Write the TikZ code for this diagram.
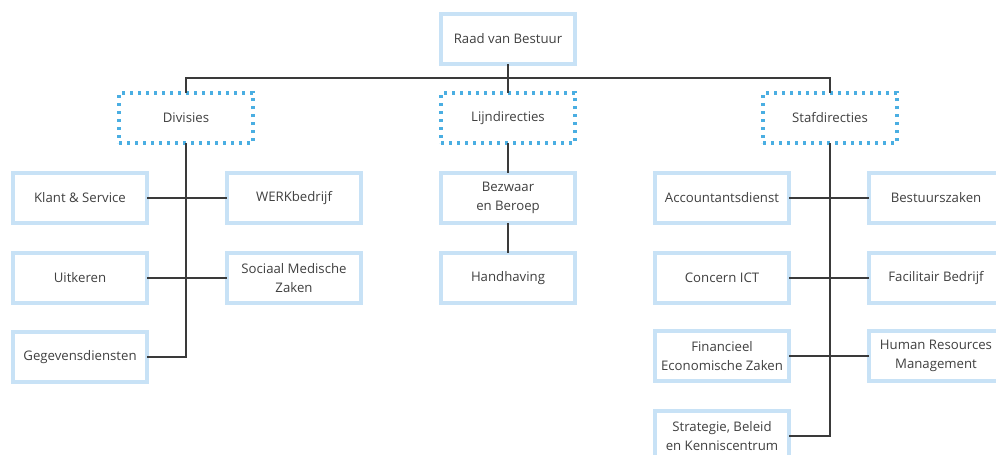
\documentclass[tikz,border=0pt]{standalone}
\usepackage{fontspec}
\setmainfont{Open Sans}
\definecolor{boxblue}{HTML}{C8E2F6}
\definecolor{dotblue}{HTML}{4AAEE2}
\definecolor{txt}{HTML}{404040}
\definecolor{conn}{HTML}{3A3A3A}
\tikzset{
  orgbox/.style={draw=boxblue, line width=3.5pt, fill=white, minimum width=134pt, minimum height=50pt,
    inner sep=2pt, outer sep=0pt, align=center, text=txt, font=\fontsize{13.2}{19}\selectfont},
  groupbox/.style={orgbox, draw=dotblue, line width=3.2pt, dash pattern=on 3.2pt off 4.8pt},
  link/.style={draw=conn, line width=1.6pt}
}
\begin{document}
\begin{tikzpicture}[x=1pt,y=-1pt]
\useasboundingbox (0,0) rectangle (996,455);
\begin{scope}
\clip (0,0) rectangle (996,455);
\coordinate (bus) at (508,78);
\node[orgbox] (raad) at (508,39) {Raad van Bestuur};
\node[groupbox] (div) at (186,118) {Divisies};
\node[groupbox] (lijn) at (508,118) {Lijndirecties};
\node[groupbox] (staf) at (830,118) {Stafdirecties};

\node[orgbox] (klant) at (80,198) {Klant \& Service};
\node[orgbox] (werk) at (294,198) {WERKbedrijf};
\node[orgbox] (uitk) at (80,278) {Uitkeren};
\node[orgbox] (smz) at (294,278) {Sociaal Medische\\Zaken};
\node[orgbox] (gegev) at (80,357) {Gegevensdiensten};

\node[orgbox] (bezw) at (508,198) {Bezwaar\\en Beroep};
\node[orgbox] (handh) at (508,278) {Handhaving};

\node[orgbox] (acc) at (722,198) {Accountantsdienst};
\node[orgbox] (bestz) at (936,198) {Bestuurszaken};
\node[orgbox] (ict) at (722,278) {Concern ICT};
\node[orgbox] (facb) at (936,278) {Facilitair Bedrijf};
\node[orgbox] (fez) at (722,356) {Financieel\\Economische Zaken};
\node[orgbox] (hrm) at (936,356) {Human Resources\\Management};
\node[orgbox] (sbk) at (722,436) {Strategie, Beleid\\en Kenniscentrum};

\draw[link] (raad.south) -- (lijn.north);
\draw[link] (div.north) |- (bus) -| (staf.north);
\draw[link] (div.south) |- (gegev.east);
\draw[link] (klant.east) -- (werk.west);
\draw[link] (uitk.east) -- (smz.west);
\draw[link] (lijn.south) -- (bezw.north);
\draw[link] (bezw.south) -- (handh.north);
\draw[link] (staf.south) |- (sbk.east);
\draw[link] (acc.east) -- (bestz.west);
\draw[link] (ict.east) -- (facb.west);
\draw[link] (fez.east) -- (hrm.west);
\end{scope}
\end{tikzpicture}
\end{document}
